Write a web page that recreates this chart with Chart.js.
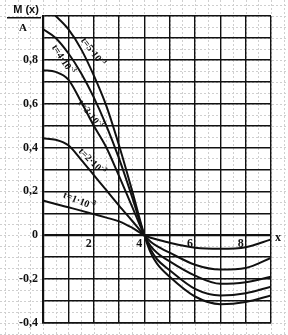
<!DOCTYPE html>
<html>
<head>
<meta charset="utf-8">
<script src="https://cdn.jsdelivr.net/npm/chart.js@4/dist/chart.umd.min.js"></script>
<style>
  html, body { margin: 0; padding: 0; background: #fff; }
  #wrap { width: 288px; height: 335px; position: relative; }
</style>
</head>
<body>
<div id="wrap"><canvas id="chart"></canvas></div>
<script>
const xs = [0, 0.5, 1, 1.5, 2, 2.5, 3, 3.5, 4, 4.25, 4.5, 5, 6, 7, 8, 9];

// M(x)/A for each t
const t5 = [1.05, 1.0, 0.94, 0.85, 0.73, 0.59, 0.41, 0.21, 0, -0.08, -0.13, -0.19, -0.28, -0.315, -0.305, -0.275];
const t4 = [0.94, 0.9, 0.83, 0.74, 0.63, 0.5, 0.35, 0.18, 0, -0.065, -0.11, -0.16, -0.245, -0.275, -0.265, -0.235];
const t3 = [0.753, 0.745, 0.71, 0.61, 0.5, 0.4, 0.27, 0.135, 0, -0.05, -0.08, -0.12, -0.185, -0.222, -0.215, -0.19];
const t2 = [0.442, 0.435, 0.41, 0.345, 0.275, 0.205, 0.135, 0.068, 0, -0.03, -0.05, -0.08, -0.135, -0.157, -0.15, -0.104];
const t1 = [0.158, 0.142, 0.127, 0.112, 0.096, 0.08, 0.063, 0.035, 0, -0.012, -0.02, -0.035, -0.057, -0.062, -0.055, -0.02];

const seriesNames = ['t=5·10', 't=4·10', 't=3·10', 't=2·10', 't=1·10'];
const xTickLabels = [2, 4, 6, 8];

const toPoints = arr => arr.map((v, i) => ({ x: xs[i], y: v }));

// where the curve names sit (data units) and their rotation
const nameSpots = [
  { x: 1.96, y: 0.835, rot: 53 },
  { x: 0.78, y: 0.80, rot: 57 },
  { x: 1.85, y: 0.55, rot: 52 },
  { x: 1.92, y: 0.335, rot: 45 },
  { x: 1.42, y: 0.155, rot: 22 }
];

const paperGrid = {
  id: 'paperGrid',
  beforeDraw(chart) {
    const { ctx, scales: { x, y } } = chart;
    ctx.save();
    ctx.strokeStyle = '#cfcfcf';
    ctx.lineWidth = 1;
    ctx.setLineDash([2, 2]);
    for (let v = -4; v <= 10.01; v += 0.5) {
      const px = Math.round(x.getPixelForValue(v)) + 0.5;
      ctx.beginPath(); ctx.moveTo(px, 0); ctx.lineTo(px, chart.height); ctx.stroke();
    }
    for (let v = -0.45; v <= 1.1; v += 0.05) {
      const py = Math.round(y.getPixelForValue(v)) + 0.5;
      ctx.beginPath(); ctx.moveTo(0, py); ctx.lineTo(chart.width, py); ctx.stroke();
    }
    ctx.restore();
  }
};

const annotations = {
  id: 'annotations',
  afterDraw(chart) {
    const { ctx, scales: { x, y } } = chart;
    ctx.save();
    ctx.fillStyle = '#111';

    // curve names
    nameSpots.forEach((s, i) => {
      ctx.save();
      ctx.translate(x.getPixelForValue(s.x), y.getPixelForValue(s.y));
      ctx.rotate(s.rot * Math.PI / 180);
      ctx.font = 'bold 10px "Liberation Serif"';
      const w = ctx.measureText(seriesNames[i]).width;
      ctx.font = 'bold 7px "Liberation Serif"';
      const w2 = ctx.measureText('-3').width;
      const start = -(w + w2) / 2;
      ctx.textBaseline = 'middle';
      ctx.font = 'bold 10px "Liberation Serif"';
      ctx.fillText(seriesNames[i], start, 0);
      ctx.font = 'bold 7px "Liberation Serif"';
      ctx.fillText('-3', start + w, -4);
      ctx.restore();
    });

    // x tick labels along the zero line
    ctx.font = 'bold 12px "Liberation Serif"';
    ctx.textAlign = 'center';
    ctx.textBaseline = 'middle';
    const y0 = y.getPixelForValue(0);
    xTickLabels.forEach(v => {
      ctx.fillText(String(v), x.getPixelForValue(v) - 5, y0 + 9);
    });
    ctx.fillText('x', chart.chartArea.right + 7, y0 + 3);

    // y axis caption M(x)/A
    ctx.font = 'bold 11px "Liberation Sans"';
    ctx.fillText('M (x)', 26, 10);
    ctx.fillRect(7, 17, 34, 1.5);
    ctx.font = 'bold 11px "Liberation Serif"';
    ctx.fillText('A', 23, 28);
    ctx.restore();
  }
};

const lineStyle = {
  borderColor: '#111',
  borderWidth: 2,
  pointRadius: 0,
  fill: false,
  cubicInterpolationMode: 'monotone'
};

new Chart(document.getElementById('chart'), {
  type: 'line',
  data: {
    datasets: [t5, t4, t3, t2, t1].map((arr, i) => ({
      label: seriesNames[i],
      data: toPoints(arr),
      ...lineStyle
    }))
  },
  options: {
    responsive: true,
    maintainAspectRatio: false,
    animation: false,
    layout: { padding: { top: 16, right: 17, bottom: 4, left: 0 } },
    plugins: { legend: { display: false }, tooltip: { enabled: false } },
    scales: {
      x: {
        type: 'linear',
        min: 0,
        max: 9,
        afterFit(s) { s.height = 0; },
        ticks: { display: false, stepSize: 1 },
        grid: { color: '#111', lineWidth: 1.4, drawTicks: false },
        border: { color: '#111', width: 1.5 }
      },
      y: {
        min: -0.4,
        max: 1.0,
        afterFit(s) { s.width = 43; },
        ticks: {
          stepSize: 0.1,
          padding: 5,
          color: '#111',
          font: { family: '"Liberation Serif"', size: 12, weight: 'bold' },
          callback(v) {
            const r = Math.round(v * 10);
            if (r % 2 !== 0 || r === 10) return '';
            if (r === 0) return '0';
            return (r / 10).toString().replace('.', ',');
          }
        },
        grid: {
          color: '#111',
          lineWidth: c => (c.tick && Math.round(c.tick.value * 10) === 0 ? 2.2 : 1.4),
          drawTicks: false
        },
        border: { color: '#111', width: 2.2 }
      }
    }
  },
  plugins: [paperGrid, annotations]
});
</script>
</body>
</html>
